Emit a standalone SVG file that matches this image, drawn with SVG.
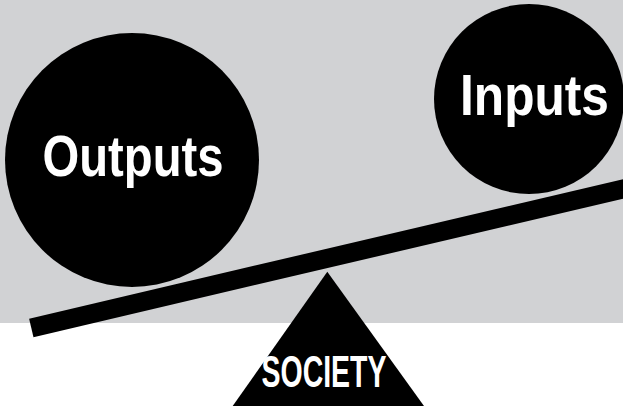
<svg xmlns="http://www.w3.org/2000/svg" width="623" height="409" viewBox="0 0 623 409">
  <style>
    .shape { fill: #000000; }
    .label { fill: #ffffff; font-family: "Liberation Sans", Arial, sans-serif; font-weight: bold; }
  </style>
  <!-- backdrop: grey band above, white floor below -->
  <rect x="0" y="0" width="623" height="409" fill="#ffffff"/>
  <rect x="0" y="0" width="623" height="323" fill="#d1d2d4"/>

  <g id="outputs">
    <circle class="shape" cx="132" cy="160" r="127"/>
    <text class="label" x="133" y="176" font-size="58" text-anchor="middle" textLength="181" lengthAdjust="spacingAndGlyphs">Outputs</text>
  </g>

  <g id="inputs">
    <circle class="shape" cx="529" cy="99" r="95"/>
    <text class="label" x="534.5" y="115" font-size="57" text-anchor="middle" textLength="149" lengthAdjust="spacingAndGlyphs">Inputs</text>
  </g>

  <g id="connectors">
    <!-- tilted lever beam -->
    <line x1="31.3" y1="327.9" x2="640" y2="184.9" stroke="#000000" stroke-width="19" stroke-linecap="butt"/>
  </g>

  <g id="society">
    <polygon class="shape" points="327.3,271.7 424,406 232.7,406"/>
    <text class="label" x="324" y="386.5" font-size="45" text-anchor="middle" textLength="125" lengthAdjust="spacingAndGlyphs">SOCIETY</text>
  </g>
</svg>
